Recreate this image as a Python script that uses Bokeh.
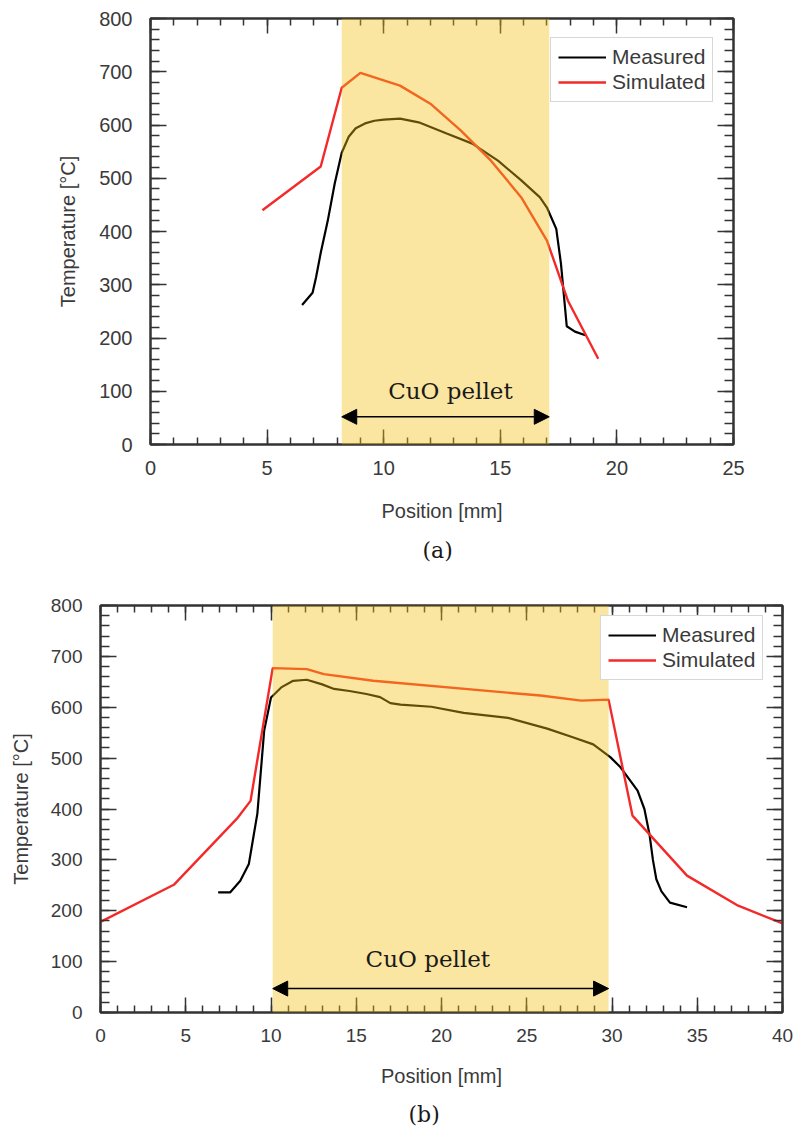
from bokeh.plotting import figure
from bokeh.models import (Range1d, LinearAxis, SingleIntervalTicker, BoxAnnotation,
                          Arrow, NormalHead, Label, Legend, LegendItem, Title,
                          CustomJSTickFormatter)
from bokeh.embed import file_html
from bokeh.resources import INLINE

# ---------------- data (a) ----------------
a_meas_x = [6.5, 6.95, 7.1, 7.3, 7.6, 7.9, 8.2, 8.5, 8.8, 9.2, 9.6, 10.0, 10.7, 11.5, 12.7,
            13.8, 14.9, 15.9, 16.7, 17.0, 17.2, 17.4, 17.6, 17.85, 18.2, 18.65]
a_meas_y = [262, 285, 314, 360, 420, 490, 548, 578, 594, 603, 608, 610, 612, 605, 584,
            565, 533, 496, 464, 445, 425, 405, 340, 222, 212, 205]
a_sim_x = [4.8, 7.3, 8.2, 9.0, 10.7, 12.0, 13.3, 14.6, 15.9, 17.0, 17.9, 19.2]
a_sim_y = [440, 522, 670, 698, 674, 640, 590, 533, 464, 383, 270, 161]
a_pellet = [8.2, 17.1]

# ---------------- data (b) ----------------
b_meas_x = [6.9, 7.6, 8.2, 8.7, 9.2, 9.6, 10.0, 10.6, 11.3, 12.1, 13.0, 13.7, 14.6, 15.6,
            16.4, 17.0, 17.6, 19.4, 21.3, 23.9, 26.2, 27.7, 28.9, 29.9, 30.5, 31.5, 31.9,
            32.2, 32.4, 32.6, 32.9, 33.4, 34.4]
b_meas_y = [236, 236, 259, 292, 391, 554, 619, 639, 652, 654, 645, 636, 632, 626,
            620, 608, 605, 601, 589, 579, 558, 541, 527, 502, 482, 436, 400,
            350, 300, 262, 238, 216, 207]
b_sim_x = [0, 4.3, 8.0, 8.8, 10.1, 12.1, 13.1, 16.0, 25.8, 28.2, 29.8, 31.2, 34.4, 37.4, 40]
b_sim_y = [178, 251, 381, 416, 677, 675, 665, 652, 623, 613, 615, 387, 269, 210, 175]
b_pellet = [10.1, 29.8]

x_title = "Position [mm]"
y_title = "Temperature [\u00b0C]"
pellet_label = "CuO pellet"

AX = "#333333"
TXT = "#3a3a3a"
SHADE = "#F2C011"
RED = "#F42A2A"
SANS = "Liberation Sans"
SERIF = "DejaVu Serif"


def style_axis(ax, major_in, minor_in):
    ax.axis_line_color = AX
    ax.axis_line_width = 2
    ax.major_tick_line_color = AX
    ax.minor_tick_line_color = AX
    ax.major_tick_line_width = 1.5
    ax.minor_tick_line_width = 1.5
    ax.major_tick_in = major_in
    ax.major_tick_out = 0
    ax.minor_tick_in = minor_in
    ax.minor_tick_out = 0


def make_panel(xmax, width, height, mb, meas_x, meas_y, sim_x, sim_y, pellet,
               arrow_y, text_xy, caption, cap_offset, cap_standoff, legend_loc, tick_fs,
               xl_standoff, yl_standoff):
    left, right, top, bottom = mb
    p = figure(width=width, height=height, output_backend="svg", toolbar_location=None,
               x_range=Range1d(0, xmax), y_range=Range1d(0, 800),
               min_border_left=left, min_border_right=right,
               min_border_top=top, min_border_bottom=bottom,
               x_axis_type=None, y_axis_type=None)
    p.background_fill_color = "white"
    p.border_fill_color = "white"
    p.outline_line_color = AX
    p.outline_line_width = 2
    p.xgrid.visible = False
    p.ygrid.visible = False

    xt = SingleIntervalTicker(interval=5, num_minor_ticks=5)
    yt = SingleIntervalTicker(interval=100, num_minor_ticks=5)

    xb = LinearAxis(ticker=xt, axis_label=x_title)
    style_axis(xb, 15, 7)
    xb.major_label_text_font = SANS
    xb.major_label_text_font_size = tick_fs
    xb.major_label_text_color = TXT
    xb.major_label_standoff = 16
    xb.axis_label_text_font = SANS
    xb.axis_label_text_font_size = "20px"
    xb.axis_label_text_font_style = "normal"
    xb.axis_label_text_color = TXT
    xb.axis_label_standoff = xl_standoff
    p.add_layout(xb, "below")

    cap = Title(text=caption, align="left", offset=cap_offset, standoff=cap_standoff,
                text_font=SERIF, text_font_size="22px", text_font_style="normal",
                text_color="#1a1a1a")
    p.add_layout(cap, "below")

    yl = LinearAxis(ticker=yt, axis_label=y_title)
    style_axis(yl, 16, 9)
    yl.major_label_text_font = SANS
    yl.major_label_text_font_size = tick_fs
    yl.major_label_text_color = TXT
    yl.major_label_standoff = 18
    yl.axis_label_text_font = SANS
    yl.axis_label_text_font_size = "20px"
    yl.axis_label_text_font_style = "normal"
    yl.axis_label_text_color = TXT
    yl.axis_label_standoff = yl_standoff
    p.add_layout(yl, "left")

    empty = CustomJSTickFormatter(code="return ''")
    xa = LinearAxis(ticker=SingleIntervalTicker(interval=5, num_minor_ticks=5),
                    formatter=empty)
    style_axis(xa, 15, 7)
    xa.major_label_text_font_size = "1px"
    xa.major_label_standoff = 0
    p.add_layout(xa, "above")

    yr = LinearAxis(ticker=SingleIntervalTicker(interval=100, num_minor_ticks=5),
                    formatter=empty)
    style_axis(yr, 16, 9)
    yr.major_label_text_font_size = "1px"
    yr.major_label_standoff = 0
    p.add_layout(yr, "right")

    r1 = p.line(meas_x, meas_y, line_color="black", line_width=2.2)
    r2 = p.line(sim_x, sim_y, line_color=RED, line_width=2.4)

    box = BoxAnnotation(left=pellet[0], right=pellet[1], fill_color=SHADE,
                        fill_alpha=0.4, line_alpha=0, level="overlay")
    p.add_layout(box)

    arr = Arrow(x_start=pellet[0], x_end=pellet[1], y_start=arrow_y, y_end=arrow_y,
                line_color="black", line_width=1.5, level="overlay",
                start=NormalHead(size=15, fill_color="black", line_color="black"),
                end=NormalHead(size=15, fill_color="black", line_color="black"))
    p.add_layout(arr)

    lab = Label(x=text_xy[0], y=text_xy[1], text=pellet_label, text_font=SERIF,
                text_font_size="23px", text_color="#1a1a1a", text_align="center",
                text_baseline="middle", level="overlay")
    p.add_layout(lab)

    leg = Legend(items=[LegendItem(label="Measured", renderers=[r1]),
                        LegendItem(label="Simulated", renderers=[r2])],
                 location=legend_loc, orientation="vertical")
    leg.label_text_font = SANS
    leg.label_text_font_size = "21px"
    leg.label_text_color = TXT
    leg.glyph_width = 48
    leg.glyph_height = 22
    leg.label_height = 22
    leg.label_standoff = 6
    leg.spacing = 1
    leg.padding = 7
    leg.margin = 0
    leg.border_line_color = "#b0b0b0"
    leg.border_line_width = 1.5
    leg.background_fill_alpha = 1
    p.add_layout(leg)
    return p


pa = make_panel(25, 795, 580, (150, 62, 18, 136), a_meas_x, a_meas_y, a_sim_x, a_sim_y,
                a_pellet, 52, (12.86, 101), "(a)", 272, 22, (400, 342), "20px", 22, 17)
pb = make_panel(40, 795, 558, (100, 13, 25, 126), b_meas_x, b_meas_y, b_sim_x, b_sim_y,
                b_pellet, 47, (19.2, 106), "(b)", 308, 21, (500, 332), "19px", 20, 16)

open("out.html", "w").write(file_html([pa, pb], INLINE))
